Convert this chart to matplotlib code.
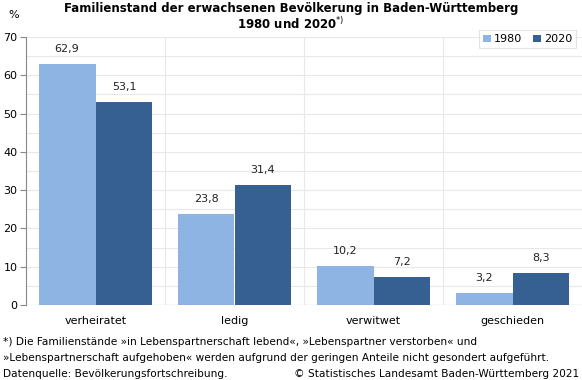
import matplotlib.pyplot as plt
import numpy as np

categories = ['verheiratet', 'ledig', 'verwitwet', 'geschieden']
values_1980 = [62.9, 23.8, 10.2, 3.2]
values_2020 = [53.1, 31.4, 7.2, 8.3]
years = ['1980', '2020']

c1980 = '#8EB4E3'
c2020 = '#366092'


def fmt(v):
    return f'{v:.1f}'.replace('.', ',')


def main():
    plt.rcParams['font.family'] = 'DejaVu Sans'
    fig = plt.figure(figsize=(5.82, 3.80), dpi=100)
    ax = fig.add_axes([26 / 582, 75 / 380, 556 / 582, 268 / 380])

    x = np.arange(len(categories))
    w = 0.41
    b1 = ax.bar(x - w / 2, values_1980, w, color=c1980, label=years[0], zorder=2)
    b2 = ax.bar(x + w / 2, values_2020, w, color=c2020, label=years[1], zorder=2)
    for bars, vals in ((b1, values_1980), (b2, values_2020)):
        for r, v in zip(bars, vals):
            ax.text(r.get_x() + r.get_width() / 2, v + 2.6, fmt(v),
                    ha='center', va='bottom', fontsize=8, color='#222222')

    ax.set_xlim(-0.5, len(categories) - 0.5)
    ax.set_ylim(0, 70)
    ax.set_yticks(range(0, 71, 10))
    ax.tick_params(axis='y', length=4, color='#888888', labelsize=8, pad=2)
    for y in range(5, 71, 5):
        ax.axhline(y, color='#e8e8e8', lw=0.8, zorder=0)
    for sep in np.arange(0.5, len(categories) - 0.5, 1):
        ax.axvline(sep, color='#e8e8e8', lw=0.8, zorder=0)

    ax.set_xticks(x)
    ax.set_xticklabels(categories, fontsize=8)
    ax.tick_params(axis='x', length=0, pad=8)

    for s in ('top', 'right', 'bottom'):
        ax.spines[s].set_visible(False)
    ax.spines['left'].set_color('#888888')
    ax.axhline(0, color='#888888', lw=0.8, zorder=3)

    fig.text(14 / 582, 1 - 18 / 380, '%', fontsize=8, ha='center')
    fig.text(0.5, 1 - 2 / 380,
             'Familienstand der erwachsenen Bevölkerung in Baden-Württemberg\n1980 und 2020$^{*)}$',
             ha='center', va='top', fontsize=8.5, fontweight='bold', linespacing=1.05)

    leg = ax.legend(loc='upper right', bbox_to_anchor=(1.0, 1.045), ncol=2, fontsize=8,
                    frameon=True, fancybox=False, handlelength=0.7, handleheight=0.7,
                    handletextpad=0.3, columnspacing=1.0, borderpad=0.35)
    leg.get_frame().set_edgecolor('#dddddd')
    leg.get_frame().set_linewidth(0.8)

    note = ('*) Die Familienstände »in Lebenspartnerschaft lebend«, »Lebenspartner verstorben« und\n'
            '»Lebenspartnerschaft aufgehoben« werden aufgrund der geringen Anteile nicht gesondert aufgeführt.')
    fig.text(3 / 582, 1 - 337 / 380, note, fontsize=7.6, va='top', linespacing=1.7)
    fig.text(3 / 582, 1 - 369 / 380, 'Datenquelle: Bevölkerungsfortschreibung.',
             fontsize=7.6, va='top')
    fig.text(579 / 582, 1 - 369 / 380, '© Statistisches Landesamt Baden-Württemberg 2021',
             fontsize=7.6, va='top', ha='right')

    fig.savefig('out.png', dpi=100)


if __name__ == '__main__':
    main()
